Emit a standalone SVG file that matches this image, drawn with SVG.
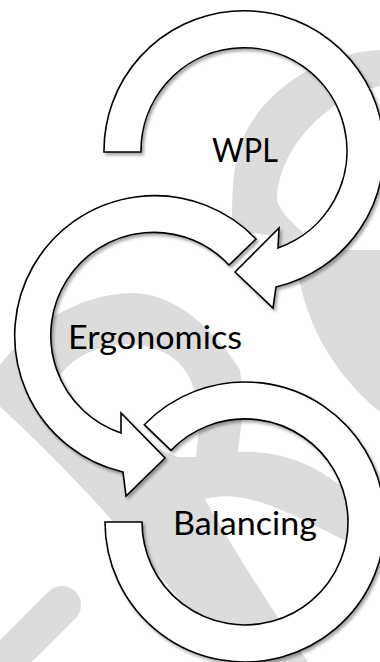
<svg xmlns="http://www.w3.org/2000/svg" width="380" height="662" viewBox="0 0 380 662">
  <defs>
    <style>
      .wm { fill: #dcdcdc; stroke: none; }
      .arrow { fill: #ffffff; stroke: #000000; stroke-width: 1.6; stroke-linejoin: miter; filter: url(#shadow); }
      .label { font-family: Lato, "Open Sans", "Liberation Sans", sans-serif; font-size: 33px; fill: #000000; text-anchor: middle; }
    </style>
    <filter id="shadow" x="-10%" y="-10%" width="130%" height="130%">
      <feDropShadow dx="2" dy="2.5" stdDeviation="1.6" flood-color="#000000" flood-opacity="0.35"/>
    </filter>
  </defs>

  <rect x="0" y="0" width="380" height="662" fill="#ffffff"/>

  <g id="watermark">
    <path class="wm" d="M 380,50 C 320,52 262,92 242,140 C 233,165 232,190 232,230 L 272,236 L 283,252 L 300,283 C 310,330 335,375 380,412 L 380,250 L 340,250 L 305,235 C 292,222 280,212 277,200 C 277,175 290,145 317,120 C 335,103 355,92 380,86 Z"/>
    <path class="wm" fill-rule="evenodd" d="M -5,372 C 20,335 70,295 130,293 C 175,292 215,330 240,370 L 244,400 L 238,452 C 275,450 310,462 335,482 L 385,510 L 385,560 C 350,545 300,515 260,502 C 240,496 222,494 205,499 C 228,540 262,595 310,665 L 230,665 C 165,575 80,480 -5,402 Z M 58,378 C 80,345 130,335 165,353 C 185,363 198,385 200,420 L 196,457 L 178,457 L 150,445 L 110,430 L 70,410 Z"/>
    <path d="M 62,605 L -20,687" stroke="#dcdcdc" stroke-width="38" stroke-linecap="round" fill="none"/>
  </g>

  <g id="connectors"></g>

  <g id="node-wpl">
    <path class="arrow" d="M 104,152 A 140 140 0 1 1 276,287 L 273,308 L 235,272 L 279,228 L 278,248 A 103 103 0 1 0 141,152 Z"/>
    <text class="label" x="245" y="162" textLength="66" lengthAdjust="spacingAndGlyphs">WPL</text>
  </g>

  <g id="node-ergonomics">
    <path class="arrow" d="M 256,239 A 140 140 0 1 0 123,472 L 126,496 L 165,458 L 121,413 L 121,433 A 103 103 0 1 1 229,265 Z"/>
    <text class="label" x="155" y="349" textLength="174" lengthAdjust="spacingAndGlyphs">Ergonomics</text>
  </g>

  <g id="node-balancing">
    <path class="arrow" d="M 105,522 A 140 140 0 1 0 144.3,424.7 L 170.9,450.4 A 103 103 0 1 1 142,522 Z"/>
    <text class="label" x="245" y="535" textLength="144" lengthAdjust="spacingAndGlyphs">Balancing</text>
  </g>
</svg>
